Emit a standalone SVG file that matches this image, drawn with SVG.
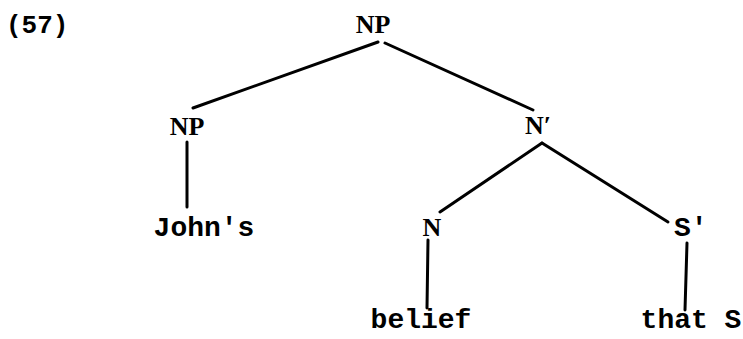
<svg xmlns="http://www.w3.org/2000/svg" width="743" height="339" viewBox="0 0 743 339">
<style>
.m{font-family:"Liberation Mono","DejaVu Sans Mono",monospace;font-weight:bold;font-size:28px;fill:#000}
.s{font-family:"Liberation Serif","DejaVu Serif",serif;font-weight:bold;font-size:26px;fill:#000;text-anchor:middle}
.e{stroke:#000;stroke-width:3;stroke-linecap:round;fill:none}
</style>
<rect width="743" height="339" fill="#fff"/>
<text class="m" x="6" y="33" style="font-size:26px">(57)</text>
<g id="np-top"><text class="s" x="373" y="33">NP</text></g>
<g id="np-left"><text class="s" x="187" y="135">NP</text></g>
<g id="nbar"><text class="s" x="538" y="134">N′</text></g>
<g id="johns"><text class="m" x="204" y="236" text-anchor="middle">John's</text></g>
<g id="n"><text class="s" x="432" y="236">N</text></g>
<g id="sbar"><text class="m" x="674" y="236">S'</text></g>
<g id="belief"><text class="m" x="421" y="328" text-anchor="middle">belief</text></g>
<g id="thats"><text class="m" x="691" y="328" text-anchor="middle">that S</text></g>
<g id="connectors" class="e">
<line x1="378" y1="42" x2="193" y2="108"/>
<line x1="385" y1="43" x2="533" y2="110"/>
<line x1="187" y1="142" x2="187" y2="207"/>
<line x1="542" y1="143" x2="440" y2="212"/>
<line x1="542" y1="143" x2="668" y2="222"/>
<line x1="428" y1="240" x2="427" y2="308"/>
<line x1="687" y1="243" x2="685" y2="310"/>
</g>
</svg>
